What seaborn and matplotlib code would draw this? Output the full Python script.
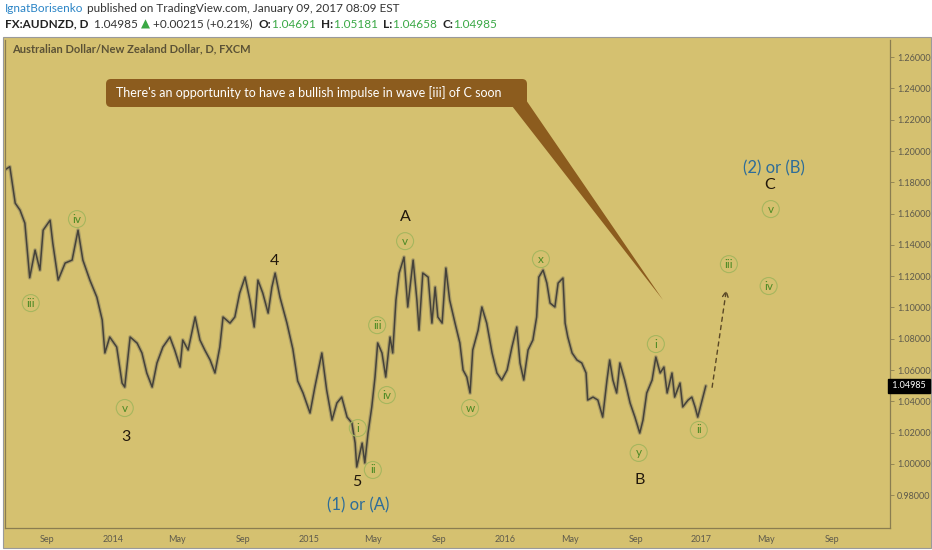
import numpy as np
import pandas as pd
import matplotlib
matplotlib.use("Agg")
import matplotlib.pyplot as plt
import matplotlib.dates as mdates
from matplotlib.patches import Rectangle, FancyBboxPatch, Polygon
import seaborn as sns

# prix AUDNZD (cloture approx.)
price_dates = [
    "2013-06-14", "2013-06-23", "2013-07-03", "2013-07-12", "2013-07-21", "2013-07-30",
    "2013-08-09", "2013-08-18", "2013-08-24", "2013-09-06", "2013-09-11", "2013-09-21",
    "2013-10-04", "2013-10-17", "2013-10-28", "2013-11-06", "2013-11-19", "2013-12-02",
    "2013-12-12", "2013-12-17", "2013-12-26", "2014-01-08", "2014-01-18", "2014-01-23",
    "2014-02-02", "2014-02-15", "2014-02-24", "2014-03-05", "2014-03-15", "2014-03-24",
    "2014-04-04", "2014-04-17", "2014-04-26", "2014-05-06", "2014-05-11", "2014-05-21",
    "2014-06-03", "2014-06-12", "2014-06-21", "2014-07-01", "2014-07-10", "2014-07-19",
    "2014-07-25", "2014-08-07", "2014-08-16", "2014-08-25", "2014-09-04", "2014-09-13",
    "2014-09-21", "2014-09-28", "2014-10-07", "2014-10-17", "2014-10-24", "2014-10-30",
    "2014-11-08", "2014-11-21", "2014-12-02", "2014-12-11", "2014-12-21", "2015-01-03",
    "2015-01-12", "2015-01-25", "2015-02-03", "2015-02-13", "2015-02-22", "2015-03-03",
    "2015-03-13", "2015-03-22", "2015-03-28", "2015-03-31", "2015-04-10", "2015-04-15",
    "2015-04-21", "2015-04-28", "2015-05-04", "2015-05-09", "2015-05-17", "2015-05-24",
    "2015-06-01", "2015-06-06", "2015-06-12", "2015-06-18", "2015-06-27", "2015-07-04",
    "2015-07-14", "2015-07-21", "2015-07-25", "2015-08-01", "2015-08-11", "2015-08-18",
    "2015-08-24", "2015-08-29", "2015-09-06", "2015-09-13", "2015-09-20", "2015-09-30",
    "2015-10-09", "2015-10-15", "2015-10-22", "2015-10-28", "2015-11-02", "2015-11-12",
    "2015-11-19", "2015-11-28", "2015-12-08", "2015-12-17", "2015-12-26", "2016-01-05",
    "2016-01-14", "2016-01-23", "2016-01-29", "2016-02-05", "2016-02-13", "2016-02-22",
    "2016-02-29", "2016-03-04", "2016-03-12", "2016-03-19", "2016-03-25", "2016-04-03",
    "2016-04-09", "2016-04-18", "2016-04-22", "2016-04-27", "2016-05-05", "2016-05-14",
    "2016-05-23", "2016-05-31", "2016-06-03", "2016-06-13", "2016-06-22", "2016-07-01",
    "2016-07-09", "2016-07-14", "2016-07-20", "2016-07-27", "2016-08-02", "2016-08-11",
    "2016-08-21", "2016-08-30", "2016-09-08", "2016-09-14", "2016-09-21", "2016-10-01",
    "2016-10-08", "2016-10-16", "2016-10-23", "2016-10-29", "2016-11-07", "2016-11-12",
    "2016-11-22", "2016-11-27", "2016-12-07", "2016-12-14", "2016-12-20", "2016-12-25",
    "2017-01-09",
]
price_close = [
    1.188, 1.190, 1.1667, 1.1622, 1.1539, 1.119,
    1.1367, 1.1239, 1.1494, 1.1558, 1.1411, 1.1175,
    1.1284, 1.1303, 1.1494, 1.1303, 1.1175, 1.1066,
    1.092, 1.0709, 1.0811, 1.0747, 1.0517, 1.0491,
    1.0811, 1.0772, 1.0709, 1.0581, 1.0491, 1.0645,
    1.0747, 1.0811, 1.0728, 1.0619, 1.0792, 1.0728,
    1.0939, 1.0792, 1.0728, 1.0664, 1.0581, 1.0747,
    1.0939, 1.0900, 1.0939, 1.1092, 1.1194, 1.1047,
    1.0875, 1.1175, 1.1092, 1.0964, 1.1130, 1.1220,
    1.1066, 1.0900, 1.0734, 1.0530, 1.0453, 1.0325,
    1.0491, 1.0709, 1.0472, 1.0280, 1.0389, 1.0427,
    1.0299, 1.0261, 1.0133, 0.998, 1.0133, 1.0006,
    1.0197, 1.0364, 1.0555, 1.0773, 1.0709, 1.0555,
    1.0811, 1.0709, 1.1047, 1.1220, 1.1322, 1.1003,
    1.1303, 1.1047, 1.0855, 1.1220, 1.1194, 1.0900,
    1.1130, 1.0939, 1.0900, 1.1252, 1.1047, 1.0900,
    1.0773, 1.0600, 1.0555, 1.0453, 1.0728, 1.0855,
    1.1003, 1.0900, 1.0709, 1.0581, 1.0536, 1.0600,
    1.0747, 1.0875, 1.0645, 1.0536, 1.0728, 1.0792,
    1.0939, 1.1194, 1.1239, 1.1156, 1.1028, 1.1003,
    1.1156, 1.1188, 1.0900, 1.0811, 1.0709, 1.0664,
    1.0645, 1.0581, 1.0408, 1.0427, 1.0408, 1.0299,
    1.0536, 1.0664, 1.0536, 1.0453, 1.0645, 1.0536,
    1.0389, 1.0299, 1.0197, 1.0280, 1.0453, 1.0536,
    1.0683, 1.0581, 1.0619, 1.0453, 1.0581, 1.0427,
    1.0517, 1.0364, 1.0408, 1.0427, 1.0364, 1.0299,
    1.04985,
]
last_close = 1.04985

# etiquettes de vagues
green_labels = ["iii", "iv", "v", "i", "ii", "iii", "iv", "v", "w", "x", "y", "i", "ii", "iii", "iv", "v"]
green_dates = ["2013-08-01", "2013-10-26", "2014-01-23", "2015-04-02", "2015-04-30", "2015-05-08",
               "2015-05-26", "2015-06-29", "2015-10-28", "2016-03-08", "2016-09-06", "2016-10-08",
               "2016-12-27", "2017-02-21", "2017-05-06", "2017-05-10"]
green_values = [1.1028, 1.1565, 1.0357, 1.0229, 0.9961, 1.0887, 1.044, 1.1424, 1.0357,
                1.1309, 1.007, 1.0766, 1.0217, 1.1277, 1.1137, 1.1629]

black_labels = ["3", "4", "5", "A", "B", "C"]
black_dates = ["2014-01-25", "2014-10-28", "2015-03-31", "2015-06-29", "2016-09-08", "2017-05-08"]
black_values = [1.0172, 1.1296, 0.9884, 1.1578, 0.9897, 1.1782]

blue_labels = ["(1) or (A)", "(2) or (B)"]
blue_dates = ["2015-04-02", "2017-05-16"]
blue_values = [0.9737, 1.1891]

arrow_dates = ["2017-01-20", "2017-02-17"]
arrow_values = [1.0472, 1.113]

W, H = 932, 550
tan = "#d5c170"
brown = "#8c5c1e"
grid_col = "#8a7d50"

sns.set_style("white")
plt.rcParams["font.family"] = ["Lato", "DejaVu Sans"]

fig = plt.figure(figsize=(W / 100, H / 100), dpi=100)
fig.patch.set_facecolor("white")
renderer = fig.canvas.get_renderer()

# fond du panneau
bg = fig.add_axes([0, 0, 1, 1], zorder=-1)
bg.set_xlim(0, W)
bg.set_ylim(H, 0)
bg.axis("off")
bg.add_patch(Rectangle((3, 37), 928, 511, facecolor=tan, edgecolor="#9a9a9a", lw=0.8))

ax = fig.add_axes([5 / W, (H - 528) / H, 885 / W, 488 / H])
ax.set_facecolor(tan)

df = pd.DataFrame({"date": pd.to_datetime(price_dates), "close": price_close})
# halo gris pour imiter les barres journalieres
sns.lineplot(data=df, x="date", y="close", ax=ax, color="#7a745e", lw=2.8, alpha=0.45)
sns.lineplot(data=df, x="date", y="close", ax=ax, color="#45423a", lw=1.1)

ax.set_xlim(pd.Timestamp("2013-06-14"), pd.Timestamp("2017-12-18"))
ax.set_ylim(0.959, 1.271)
ax.set_xlabel("")
ax.set_ylabel("")

ax.yaxis.tick_right()
ax.set_yticks(np.arange(0.98, 1.2601, 0.02))
ax.yaxis.set_major_formatter(plt.FormatStrFormatter("%.5f"))
ax.xaxis.set_major_locator(mdates.MonthLocator(bymonth=[1, 5, 9]))
ax.xaxis.set_major_formatter(plt.FuncFormatter(
    lambda v, p: str(mdates.num2date(v).year) if mdates.num2date(v).month == 1
    else mdates.num2date(v).strftime("%b")))
ax.tick_params(axis="both", direction="out", length=3, width=0.6, color=grid_col,
               labelsize=6.5, labelcolor="#5e5a4c", pad=2)
for s in ax.spines.values():
    s.set_color(grid_col)
    s.set_linewidth(0.9)
ax.spines["top"].set_visible(False)

# etiquettes
for lab, d, v in zip(green_labels, green_dates, green_values):
    ax.scatter([pd.Timestamp(d)], [v], s=150, facecolor="none", edgecolor="#a6b65e", lw=0.8, zorder=4)
    ax.text(pd.Timestamp(d), v, lab, color="#4d8a25", fontsize=8.5, ha="center", va="center", zorder=5)
for lab, d, v in zip(black_labels, black_dates, black_values):
    ax.text(pd.Timestamp(d), v, lab, color="#22180c", fontsize=11.5, ha="center", va="center")
for lab, d, v in zip(blue_labels, blue_dates, blue_values):
    ax.text(pd.Timestamp(d), v, lab, color="#2e6d99", fontsize=12, ha="center", va="center")

ax.annotate("", xy=(pd.Timestamp(arrow_dates[1]), arrow_values[1]),
            xytext=(pd.Timestamp(arrow_dates[0]), arrow_values[0]),
            arrowprops=dict(arrowstyle="->", linestyle=(0, (3, 3)), color="#5a4826", lw=1))

# etiquette du dernier prix
ax.text(1.0, last_close, " 1.04985 ", transform=ax.get_yaxis_transform(), color="white",
        fontsize=6.5, ha="left", va="center",
        bbox=dict(boxstyle="square,pad=0.25", fc="black", ec="black"))

# premier plan: titre, bulle
fg = fig.add_axes([0, 0, 1, 1], zorder=5)
fg.set_xlim(0, W)
fg.set_ylim(H, 0)
fg.axis("off")
fg.patch.set_alpha(0)

fg.add_patch(Polygon([(512, 106), (526, 100), (663, 300)], closed=True, facecolor=brown, edgecolor="none"))
fg.add_patch(FancyBboxPatch((106, 79), 421, 28, boxstyle="round,pad=0,rounding_size=5",
                            facecolor=brown, edgecolor="none"))
fg.text(116, 93, "There's an opportunity to have a bullish impulse in wave [iii] of C soon",
        color="white", fontsize=9, ha="left", va="center")

fg.text(12, 49, "Australian Dollar/New Zealand Dollar, D, FXCM", color="#5b5236",
        fontsize=8, fontweight="bold", ha="left", va="center")


def put_line(pieces, x, y, size):
    for txt, col, wt in pieces:
        t = fg.text(x, y, txt, color=col, fontsize=size, fontweight=wt, ha="left", va="center")
        bb = t.get_window_extent(renderer)
        x += bb.width


put_line([("IgnatBorisenko", "#2a84c6", "normal"),
          (" published on TradingView.com, January 09, 2017 08:09 EST", "#333333", "normal")],
         5, 9, 8.5)
green_txt = "#3aa845"
put_line([("FX:AUDNZD, D", "#222222", "bold"),
          ("  1.04985 ", "#333333", "normal"),
          ("\u25b2", green_txt, "normal"),
          (" +0.00215 (+0.21%)  ", "#333333", "normal"),
          ("O:", "#222222", "bold"), ("1.04691  ", green_txt, "normal"),
          ("H:", "#222222", "bold"), ("1.05181  ", green_txt, "normal"),
          ("L:", "#222222", "bold"), ("1.04658  ", green_txt, "normal"),
          ("C:", "#222222", "bold"), ("1.04985", green_txt, "normal")],
         5, 24, 8.5)

fig.savefig("out.png", dpi=100)
